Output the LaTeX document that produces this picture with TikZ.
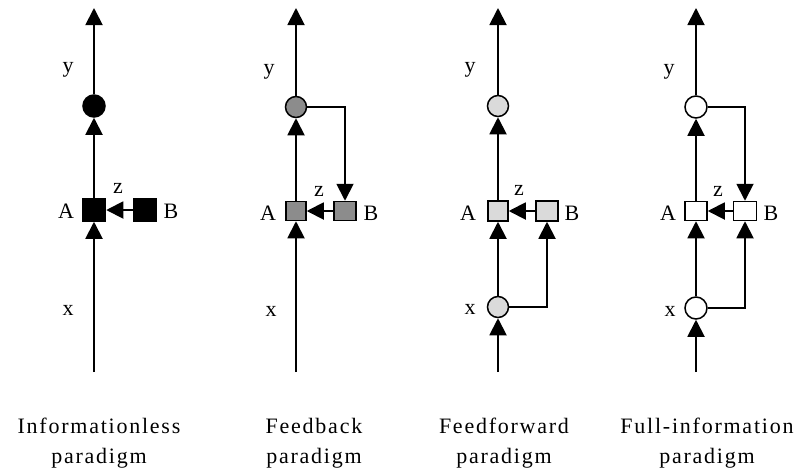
\documentclass[tikz,border=0pt]{standalone}
\usepackage{fontspec}
\setmainfont{Liberation Serif}
\usetikzlibrary{arrows.meta}
\definecolor{midgray}{HTML}{8C8C8C}
\definecolor{lightgray}{HTML}{DADADA}
\tikzset{
  conn/.style={draw, line width=1.9pt, -{Triangle[width=17pt,length=17pt]}},
  sqbox/.style={draw, line width=1.5pt, rectangle, inner sep=0pt, minimum width=#1},
  sqbox/.default=21pt,
  rnd/.style={draw, line width=1.5pt, circle, inner sep=0pt, minimum size=21pt},
  lbl/.style={font=\fontsize{22}{26}\selectfont, inner sep=0pt},
  captxt/.style={font=\addfontfeature{LetterSpace=8}\fontsize{22}{30}\selectfont, align=center, inner sep=0pt}
}
\begin{document}
\begin{tikzpicture}[x=1pt,y=-1pt]
\useasboundingbox (0,0) rectangle (804,472);
% ---------- Panel 1: Informationless ----------
\coordinate (top1) at (94,8);
\coordinate (bot1) at (94,372);
\node[rnd, fill=black, minimum size=22pt] (c1) at (94,106) {};
\node[sqbox=23pt, minimum height=22pt, fill=black] (a1) at (94,210) {};
\node[sqbox=23pt, minimum height=22pt, fill=black] (b1) at (145,210) {};
\draw[conn] (bot1) -- (a1);
\draw[conn] (a1) -- (c1);
\draw[conn] (c1) -- (top1);
\draw[conn] (b1) -- (a1);
\node[lbl] (ly1) at (68,70) {y};
\node[lbl] (lx1) at (68,310) {x};
\node[lbl] (la1) at (66,211) {A};
\node[lbl] (lb1) at (171,211) {B};
\node[lbl] (lz1) at (118,188) {z};
\node[captxt] (t1) at (99,443) {Informationless\\paradigm};
% ---------- Panel 2: Feedback ----------
\coordinate (top2) at (296,8);
\coordinate (bot2) at (296,372);
\node[rnd, fill=midgray] (c2) at (296,107) {};
\node[sqbox=20pt, minimum height=19pt, fill=midgray] (a2) at (296,211) {};
\node[sqbox=22pt, minimum height=19pt, fill=midgray] (b2) at (345,211) {};
\draw[conn] (bot2) -- (a2);
\draw[conn] (a2) -- (c2);
\draw[conn] (c2) -- (top2);
\draw[conn] (b2) -- (a2);
\draw[conn] (c2.east) -| (b2.north);
\node[lbl] (ly2) at (269,72) {y};
\node[lbl] (lx2) at (271,311) {x};
\node[lbl] (la2) at (268,213) {A};
\node[lbl] (lb2) at (371,213) {B};
\node[lbl] (lz2) at (319,191) {z};
\node[captxt] (t2) at (314,443) {Feedback\\paradigm};
% ---------- Panel 3: Feedforward ----------
\coordinate (top3) at (498,8);
\coordinate (bot3) at (498,372);
\node[rnd, fill=lightgray] (c3) at (498,106) {};
\node[sqbox=20pt, minimum height=20pt, fill=lightgray] (a3) at (498,211) {};
\node[sqbox=22pt, minimum height=20pt, fill=lightgray] (b3) at (547,211) {};
\node[rnd, fill=lightgray] (x3) at (498,307) {};
\draw[conn] (bot3) -- (x3);
\draw[conn] (x3) -- (a3);
\draw[conn] (a3) -- (c3);
\draw[conn] (c3) -- (top3);
\draw[conn] (b3) -- (a3);
\draw[conn] (x3.east) -| (b3.south);
\node[lbl] (ly3) at (470,70) {y};
\node[lbl] (lx3) at (470,309) {x};
\node[lbl] (la3) at (468,213) {A};
\node[lbl] (lb3) at (572,213) {B};
\node[lbl] (lz3) at (519,190) {z};
\node[captxt] (t3) at (504,443) {Feedforward\\paradigm};
% ---------- Panel 4: Full-information ----------
\coordinate (top4) at (696,8);
\coordinate (bot4) at (696,372);
\node[rnd, fill=white, minimum size=22pt] (c4) at (696,107) {};
\node[sqbox=22pt, minimum height=19pt, fill=white] (a4) at (696,211) {};
\node[sqbox=23pt, minimum height=19pt, fill=white] (b4) at (745,211) {};
\node[rnd, fill=white, minimum size=22pt] (x4) at (696,308) {};
\draw[conn] (bot4) -- (x4);
\draw[conn] (x4) -- (a4);
\draw[conn] (a4) -- (c4);
\draw[conn] (c4) -- (top4);
\draw[conn] (b4) -- (a4);
\draw[conn] (c4.east) -| (b4.north);
\draw[conn] (x4.east) -| (b4.south);
\node[lbl] (ly4) at (669,72) {y};
\node[lbl] (lx4) at (670,311) {x};
\node[lbl] (la4) at (668,213) {A};
\node[lbl] (lb4) at (771,213) {B};
\node[lbl] (lz4) at (718,191) {z};
\node[captxt] (t4) at (707,443) {Full-information\\paradigm};
\end{tikzpicture}
\end{document}
